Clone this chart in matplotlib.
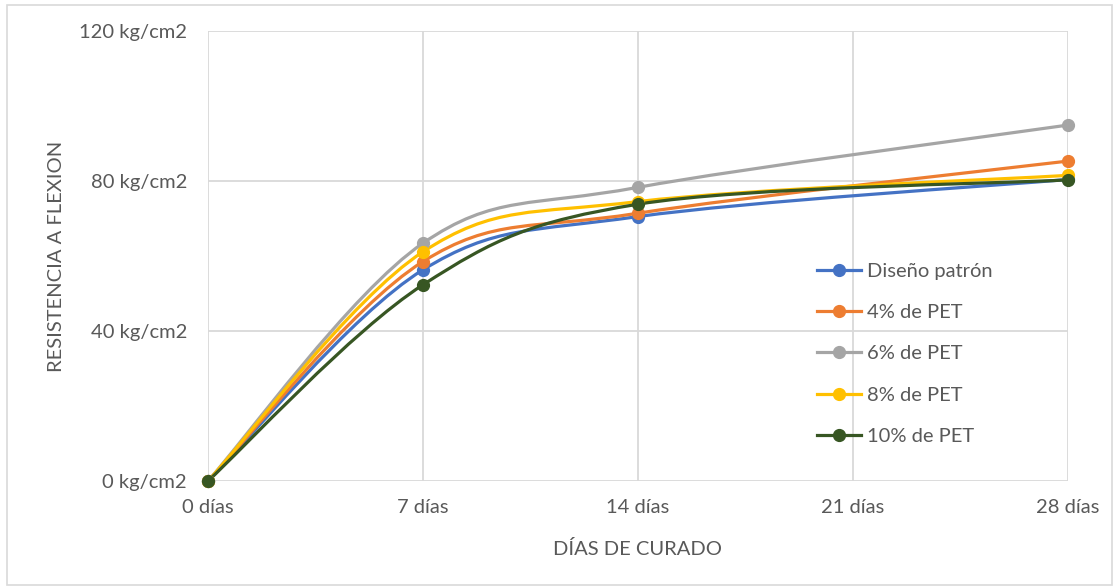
import numpy as np
import matplotlib.pyplot as plt
from matplotlib.path import Path
from matplotlib.patches import PathPatch
from matplotlib.lines import Line2D

plt.rcParams['font.family'] = ['Lato', 'DejaVu Sans']

dias = [0, 7, 14, 28]
x_ticks = [0, 7, 14, 21, 28]
x_labels = ['0 días', '7 días', '14 días', '21 días', '28 días']
y_ticks = [0, 40, 80, 120]
y_labels = ['0 kg/cm2', '40 kg/cm2', '80 kg/cm2', '120 kg/cm2']

patron = [0, 56.3, 70.5, 80.4]
pet4 = [0, 58.5, 71.4, 85.3]
pet6 = [0, 63.4, 78.3, 94.9]
pet8 = [0, 61.1, 74.5, 81.5]
pet10 = [0, 52.3, 73.8, 80.3]

series = [
    ('Diseño patrón', patron, '#4472C4'),
    ('4% de PET', pet4, '#ED7D31'),
    ('6% de PET', pet6, '#A5A5A5'),
    ('8% de PET', pet8, '#FFC000'),
    ('10% de PET', pet10, '#375623'),
]

gris = '#595959'


def smooth_path(xs, ys):
    # bezier como la linea suavizada de Excel
    p = np.column_stack([xs, ys]).astype(float)
    n = len(p)
    verts = [p[0]]
    codes = [Path.MOVETO]
    for i in range(n - 1):
        p0 = p[i - 1] if i > 0 else p[i]
        p3 = p[i + 2] if i + 2 < n else p[i + 1]
        c1 = p[i] + (p[i + 1] - p0) / 6
        c2 = p[i + 1] - (p3 - p[i]) / 6
        verts += [c1, c2, p[i + 1]]
        codes += [Path.CURVE4] * 3
    return Path(verts, codes)


fig = plt.figure(figsize=(11.18, 5.87), dpi=100)
ax = fig.add_axes([0.186, 0.1806, 0.769, 0.7666])

handles = []
for nombre, vals, color in series:
    ax.add_patch(PathPatch(smooth_path(dias, vals), facecolor='none',
                           edgecolor=color, lw=2.3, zorder=3, capstyle='round',
                           clip_on=False))
    ax.plot(dias, vals, 'o', color=color, markersize=8.5, zorder=4, clip_on=False)
    handles.append(Line2D([], [], color=color, lw=2.3, marker='o', markersize=8.5))

ax.set_xlim(0, 28)
ax.set_ylim(0, 120)
ax.set_xticks(x_ticks)
ax.set_xticklabels(x_labels)
ax.set_yticks(y_ticks)
ax.set_yticklabels(y_labels)
ax.tick_params(length=0, labelsize=14.5, labelcolor=gris)
ax.tick_params(axis='x', pad=13)
ax.tick_params(axis='y', pad=15)
ax.grid(True, color='#D9D9D9', lw=1.3)
ax.set_axisbelow(True)
for s in ax.spines.values():
    s.set_visible(False)

ax.set_xlabel('DÍAS DE CURADO', fontsize=14.5, color=gris, labelpad=17)
ax.set_ylabel('RESISTENCIA A FLEXION', fontsize=14.5, color=gris, labelpad=10)

leg = ax.legend(handles, [s[0] for s in series], loc='upper left',
                bbox_to_anchor=(0.699, 0.503), frameon=False, fontsize=14.5,
                handlelength=2.2, labelspacing=1.2, handletextpad=0.3,
                borderaxespad=0)
for t in leg.get_texts():
    t.set_color(gris)

fig.patches.append(plt.Rectangle((0.006, 0.004), 0.989, 0.988, transform=fig.transFigure,
                                 fill=False, edgecolor='#D9D9D9', lw=1.2))

fig.savefig('out.png', dpi=100)
